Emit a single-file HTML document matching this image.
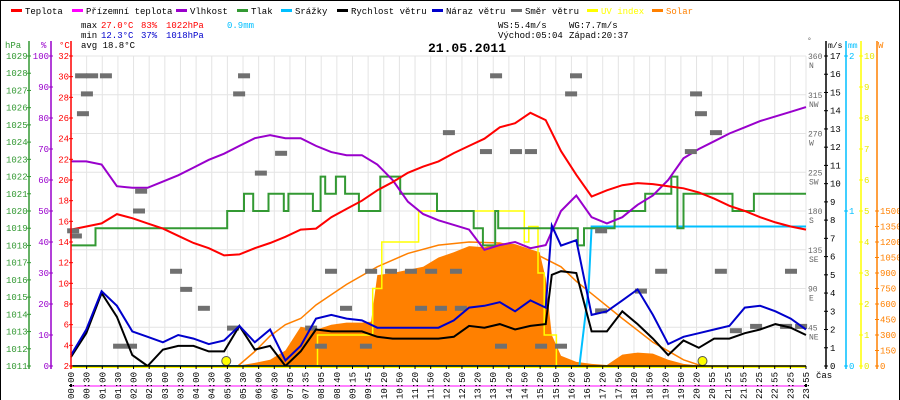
<!DOCTYPE html>
<html><head><meta charset="utf-8">
<style>
html,body{margin:0;padding:0;background:#fff;}
#wrap{position:relative;width:900px;height:400px;overflow:hidden;box-sizing:border-box;border:1px solid #000;border-bottom:none;}
svg{position:absolute;left:0;top:0;}
text{font-family:"Liberation Mono",monospace;}
</style></head>
<body>
<div id="wrap">
<svg id="chart" width="900" height="400" viewBox="0 0 900 400"></svg>
</div>
<script>
// ---- data ----
const xLabels = ["00:00","00:30","01:00","01:30","02:00","02:30","03:00","03:30","04:00","04:30","05:00","05:30","06:00","06:30","07:05","07:35","08:05","08:40","09:15","09:45","10:20","10:50","11:20","11:50","12:20","12:50","13:20","13:50","14:20","14:50","15:20","15:50","16:20","16:50","17:20","17:50","18:20","18:50","19:20","19:50","20:20","20:55","21:25","21:55","22:25","22:55","23:25","23:55"];
const halfHours = [0,0.5,1,1.5,2,2.5,3,3.5,4,4.5,5,5.5,6,6.5,7,7.5,8,8.5,9,9.5,10,10.5,11,11.5,12,12.5,13,13.5,14,14.5,15,15.5,16,16.5,17,17.5,18,18.5,19,19.5,20,20.5,21,21.5,22,22.5,23,23.5,24];
const tempValues = [15.2,15.5,15.8,16.7,16.3,15.8,15.3,14.6,13.9,13.4,12.7,12.8,13.4,13.9,14.5,15.2,15.3,16.4,17.2,18.0,19.0,19.8,20.7,21.3,21.8,22.6,23.3,24.0,25.1,25.5,26.5,25.8,22.8,20.5,18.4,19.0,19.5,19.7,19.6,19.4,19.2,18.8,18.2,17.5,17.0,16.4,15.9,15.5,15.2];
const humValues = [66,66,65,58,57.5,57.5,59.5,61.5,64,66.5,68.5,71,73.5,74.5,73.5,73.5,71,69,68,68,65,60,53,49,47,45.5,44,37.5,39,40,38,39,50,55,48,46,48,52,55,60,67,70,72.5,75,77,79,80.5,82,83.5];
const pressTimes = [0,0.8,5.1,5.65,5.95,6.45,6.95,7.1,7.9,8.15,8.3,8.65,8.95,9.4,10.1,10.75,11.95,13.15,13.45,13.85,13.95,14.3,16.55,16.75,17.75,18.75,19.6,19.8,20.0,20.8,21.6,22.3,24];
const pressValues = [1018,1019,1020,1021,1020,1021,1020,1021,1020,1022,1021,1022,1021,1020,1022,1021,1020,1019,1018,1020,1019,1019,1018,1019,1020,1021,1022,1019,1021,1021,1020,1021,1021];
const windTimes = [0,0.5,1,1.5,2,2.5,3,3.5,4,4.5,5,5.5,6,6.5,7,7.5,8,8.5,9,9.5,10,10.5,11,11.5,12,12.5,13,13.5,14,14.5,15,15.5,15.7,16,16.5,17,17.5,18,18.5,19,19.5,20,20.5,21,21.5,22,22.5,23,23.5,24];
const windValues = [0.5,1.8,4.0,2.7,0.6,0.0,0.9,1.1,1.1,0.8,0.8,2.2,0.9,1.1,0.0,0.8,2.0,1.9,1.9,1.9,1.6,1.5,1.5,1.5,1.5,1.6,2.2,2.1,2.3,2.0,2.2,2.3,5.0,5.2,5.1,1.9,1.9,3.0,2.3,1.5,0.6,1.4,1.0,1.5,1.5,1.8,2.0,2.3,2.1,1.7];
const gustValues = [0.6,2.0,4.1,3.3,1.9,1.6,1.3,1.7,1.5,1.2,1.4,2.2,1.3,2.0,0.3,1.1,2.6,2.8,2.6,2.5,2.1,2.1,2.1,2.1,2.1,2.5,3.2,3.3,3.5,3.0,3.6,3.2,7.7,6.6,6.9,2.8,3.0,3.6,4.2,2.8,1.2,1.6,1.8,2.0,2.2,3.2,3.3,3.0,2.6,2.0];
const solarTimes = [5,5.5,6,6.5,7,7.5,8,8.5,9,9.5,9.8,10,10.5,11,11.5,12,12.5,13,13.5,14,14.5,15,15.3,15.5,15.7,16,16.5,17,17.5,18,18.5,19,19.5,20,20.5,21];
const solarValues = [0,5,30,60,150,380,350,400,420,420,430,880,900,930,960,1050,1100,1160,1150,1190,1180,1130,1100,850,300,100,40,20,10,110,130,120,60,20,5,0];
const clearTimes = [5.45,6,6.5,7,7.5,8,9,10,11,12,13,14,15,16,16.5,17,18,19,20,20.6];
const clearValues = [0,140,290,400,460,590,790,960,1090,1170,1200,1190,1110,960,820,700,460,230,60,0];
const uvTimes = [0,8.05,9.85,10.15,11.35,14.8,14.95,15.25,15.45,15.85,24];
const uvValues = [0,1,2.5,4,5,4,4.5,3,1,0,0];
const rainTimes = [0,16.6,16.9,17.0,24];
const rainValues = [0,0,0.5,0.9,0.9];
const dirTimes = [0.33,0.69,1.14,0.52,0.39,0.07,0.16,2.29,2.22,3.43,3.76,4.34,5.29,1.57,1.96,5.65,5.49,6.86,6.2,7.84,8.49,8.98,9.8,10.45,11.1,11.76,12.57,8.16,9.63,11.43,12.08,12.73,13.88,16.49,16.33,12.34,13.55,15.02,14.53,17.31,18.61,20.24,20.57,21.06,20.41,21.22,21.71,23.35,23.84,22.37,23.51,14.04,15.35,16.0,17.31,19.27];
const dirValues = [337,337,337,316,293,157,151,203,180,110,89,67,44,23,23,337,316,247,224,44,110,67,110,110,110,110,110,23,23,67,67,67,337,337,316,271,249,249,249,157,87,249,293,271,316,110,41,46,46,46,110,23,23,23,64,110];
const sunTimes = [5.07,20.62];

// ---- scales ----
const X0=70, X1=805, Y0=55, Y1=365;
const X = h => X0 + h*(X1-X0)/24;
const yT = t => Y1 - (t-2)*(Y1-Y0)/30;
const yHum = p => Y1 - p*(Y1-Y0)/100;
const yP = v => Y1 - (v-1011)*(Y1-Y0)/18;
const yW = v => Y1 - v*(Y1-Y0)/17;
const yS = w => Y1 - w*(Y1-Y0)/3000;
const yUV = u => Y1 - u*(Y1-Y0)/10;
const yR = m => Y1 - m*(Y1-Y0)/2;
const yD = d => Y1 - d*(Y1-Y0)/360;

const svg = document.getElementById('chart');
const NS='http://www.w3.org/2000/svg';
function mk(tag, attrs, parent){const e=document.createElementNS(NS,tag);for(const k in attrs)e.setAttribute(k,attrs[k]);(parent||svg).appendChild(e);return e;}
function txt(x,y,s,fill,size,anchor,weight){const t=mk('text',{x:x,y:y,fill:fill,'font-size':size||9,'text-anchor':anchor||'start'});if(weight)t.setAttribute('font-weight',weight);t.textContent=s;return t;}

// grid
const grid = mk('g',{});


for(let i=0;i<xLabels.length;i++){const x=X0+i*(X1-X0)/(xLabels.length-1);mk('line',{x1:x,y1:Y0,x2:x,y2:Y1,stroke:'#e4e4e4','stroke-width':1},grid);}
for(let k=0;k<8;k++){const y=Y0+k*(Y1-Y0)/8;mk('line',{x1:X0,y1:y,x2:X1,y2:y,stroke:'#e4e4e4','stroke-width':1},grid);}

function linePts(ts,vs,fx,fy){return ts.map((t,i)=>fx(t).toFixed(1)+','+fy(vs[i]).toFixed(1)).join(' ');}
function stepPts(ts,vs,fy){let p=[];for(let i=0;i<ts.length;i++){if(i>0)p.push(X(ts[i]).toFixed(1)+','+fy(vs[i-1]).toFixed(1));p.push(X(ts[i]).toFixed(1)+','+fy(vs[i]).toFixed(1));}return p.join(' ');}

// solar fill
const sp = 'M'+X(solarTimes[0])+','+Y1+' L'+linePts(solarTimes,solarValues,X,yS).split(' ').join(' L')+' L'+X(solarTimes[solarTimes.length-1])+','+Y1+' Z';
const solar = mk('path',{d:sp,fill:'#ff8000',stroke:'none'});


const clear = mk('polyline',{points:linePts(clearTimes,clearValues,X,yS),fill:'none',stroke:'#ff8000','stroke-width':1.5});


// UV
const uv = mk('polyline',{points:stepPts(uvTimes,uvValues,yUV),fill:'none',stroke:'#ffff00','stroke-width':1.5});


// rain
const rain = mk('polyline',{points:linePts(rainTimes,rainValues,X,yR),fill:'none',stroke:'#00bfff','stroke-width':2});


// pressure
const pr = mk('polyline',{points:stepPts(pressTimes,pressValues,yP),fill:'none',stroke:'#339933','stroke-width':2});


// humidity
const hu = mk('polyline',{points:linePts(halfHours,humValues,X,yHum),fill:'none',stroke:'#9900cc','stroke-width':2});


// temperature
const te = mk('polyline',{points:linePts(halfHours,tempValues,X,yT),fill:'none',stroke:'#ff0000','stroke-width':2});


// wind direction
const dg = mk('g',{});


for(let i=0;i<dirTimes.length;i++){
  const r = mk('rect',{x:X(dirTimes[i])-6,y:yD(dirValues[i])-2.5,width:12,height:5,fill:'#707070'},dg);
  
  
}
// wind
const ws = mk('polyline',{points:linePts(windTimes,windValues,X,yW),fill:'none',stroke:'#000','stroke-width':2});


const wg = mk('polyline',{points:linePts(windTimes,gustValues,X,yW),fill:'none',stroke:'#0000cc','stroke-width':2});


// sun markers
for(let i=0;i<sunTimes.length;i++){
  const c = mk('circle',{cx:X(sunTimes[i]),cy:Y1-5,r:4.5,fill:'#ffff00',stroke:'#555','stroke-width':1});
  
  
}
// baseline
mk('line',{x1:X0,y1:Y1+1,x2:X1,y2:Y1+1,stroke:'#ffff00','stroke-width':2});
mk('line',{x1:X0,y1:Y1,x2:X1,y2:Y1,stroke:'#000','stroke-width':1.5});
mk('line',{x1:X0,y1:385,x2:X1,y2:385,stroke:'#ff00ff','stroke-width':1});
mk('rect',{x:X0-1,y:383,width:2,height:3,fill:'#000'});
mk('rect',{x:X1-1,y:383,width:2,height:3,fill:'#000'});

// x labels
const xl = mk('g',{});


for(let i=0;i<xLabels.length;i++){
  const x=X0+i*(X1-X0)/(xLabels.length-1);
  mk('line',{x1:x,y1:Y1,x2:x,y2:Y1+3,stroke:'#000'},xl);
  const t=mk('text',{x:0,y:0,fill:'#000','font-size':9,'text-anchor':'end',transform:'translate('+(x+3)+',371) rotate(-90)'},xl);
  t.textContent=xLabels[i];
}
txt(815,377,'čas','#000',9);

// axes
function vaxis(x,color,name){const l=mk('line',{x1:x,y1:40,x2:x,y2:368,stroke:color,'stroke-width':1.5});}
vaxis(28,'#339933','pressure-axis');
vaxis(50,'#9900cc','humidity-axis');
vaxis(70,'#ff0000','temperature-axis');
vaxis(825,'#000','wind-speed-axis');
vaxis(845,'#00bfff','rain-axis');
vaxis(860,'#ffff00','uv-axis');
vaxis(876,'#ff8000','solar-axis');
txt(4,47,'hPa','#339933',9); txt(40,47,'%','#9900cc',9); txt(58,47,'°C','#ff0000',9);
txt(806,42,'°','#666',8); txt(827,47,'m/s','#000',8); txt(847,47,'mm','#00bfff',8); txt(877,47,'W','#ff8000',9);
for(let v=1011;v<=1029;v++){const y=yP(v);mk('line',{x1:26,y1:y,x2:30,y2:y,stroke:'#339933'});txt(5,y+3,String(v),'#339933',9);}
for(let v=0;v<=100;v+=10){const y=yHum(v);mk('line',{x1:48,y1:y,x2:52,y2:y,stroke:'#9900cc'});txt(48,y+3,String(v),'#9900cc',9,'end');}
for(let v=2;v<=32;v+=2){const y=yT(v);mk('line',{x1:68,y1:y,x2:72,y2:y,stroke:'#ff0000'});txt(68,y+3,String(v),'#ff0000',9,'end');}
for(let v=0;v<=17;v++){const y=yW(v);mk('line',{x1:823,y1:y,x2:827,y2:y,stroke:'#000'});txt(829,y+3,String(v),'#000',9);}
for(let v=0;v<=2;v++){const y=yR(v);mk('line',{x1:843,y1:y,x2:847,y2:y,stroke:'#00bfff'});txt(848,y+3,String(v),'#00bfff',9);}
for(let v=0;v<=10;v++){const y=yUV(v);mk('line',{x1:858,y1:y,x2:862,y2:y,stroke:'#ffff00'});txt(863,y+3,String(v),'#e8e800',9);}
for(let v=0;v<=1500;v+=150){const y=yS(v);mk('line',{x1:874,y1:y,x2:878,y2:y,stroke:'#ff8000'});txt(879,y+3,String(v),'#ff8000',9);}
const dirs=[[360,'N'],[315,'NW'],[270,'W'],[225,'SW'],[180,'S'],[135,'SE'],[90,'E'],[45,'NE']];
for(const [d,n] of dirs){const y=yD(d);txt(807,y+3,String(d),'#666',8);txt(808,y+12,n,'#666',8);}

// legend
const leg=[['Teplota','#ff0000',10],['Přízemní teplota','#ff00ff',71],['Vlhkost','#9900cc',175],['Tlak','#339933',236],['Srážky','#00bfff',280],['Rychlost větru','#000',336],['Náraz větru','#0000cc',431],['Směr větru','#707070',510],['UV index','#ffff00',586],['Solar','#ff8000',651]];
for(const [n,c,x] of leg){
  const g=mk('g',{});
  
  
  mk('rect',{x:x,y:8,width:11,height:3,fill:c},g);
  const tc=(n==='UV index'||n==='Solar')?c:'#000';
  const t=mk('text',{x:x+14,y:13,fill:tc,'font-size':9},g);t.textContent=n;
}
// stats
txt(80,27,'max','#000',9); txt(100,27,'27.0°C','#ff0000',9); txt(140,27,'83%','#ff0000',9); txt(165,27,'1022hPa','#ff0000',9); txt(226,27,'0.9mm','#00bfff',9);
txt(80,37,'min','#000',9); txt(100,37,'12.3°C','#0000cc',9); txt(140,37,'37%','#0000cc',9); txt(165,37,'1018hPa','#0000cc',9);
txt(80,47,'avg 18.8°C','#000',9);
txt(497,27,'WS:5.4m/s','#000',9); txt(568,27,'WG:7.7m/s','#000',9);
txt(497,37,'Východ:05:04','#000',9); txt(568,37,'Západ:20:37','#000',9);
const title=txt(466,51,'21.05.2011','#000',13,'middle','bold');


</script>
</body></html>
